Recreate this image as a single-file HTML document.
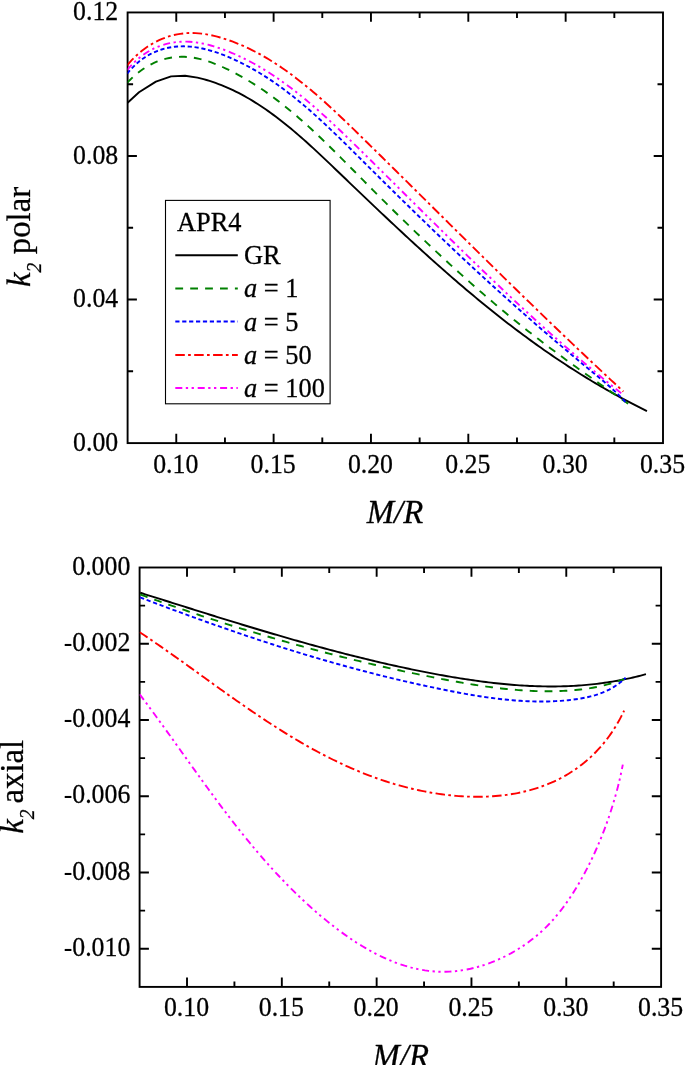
<!DOCTYPE html>
<html><head><meta charset="utf-8"><title>k2</title>
<style>
html,body{margin:0;padding:0;background:#fff;}
body{width:685px;height:1065px;overflow:hidden;}
svg{display:block;}
text{font-family:"Liberation Serif",serif;fill:#000;stroke:#000;stroke-width:0.28px;}
.t{font-size:25.8px;}
.l{font-size:26.4px;}
.a{font-size:32.8px;}
.s{font-size:19.5px;}
.i{font-style:italic;}
.m{stroke:none;}
</style></head><body>
<svg width="685" height="1065" viewBox="0 0 685 1065">
<defs><filter id="soft" x="0" y="0" width="685" height="1065" filterUnits="userSpaceOnUse" color-interpolation-filters="sRGB"><feGaussianBlur stdDeviation="0.35"/></filter></defs>
<rect width="685" height="1065" fill="#fff"/>
<g filter="url(#soft)">
<rect x="127.6" y="12.45" width="535.4" height="430.65000000000003" fill="none" stroke="#000" stroke-width="1.9"/>
<path d="M176.27,12.45v9.3M176.27,443.1v-9.3M273.62,12.45v9.3M273.62,443.1v-9.3M370.96,12.45v9.3M370.96,443.1v-9.3M468.31,12.45v9.3M468.31,443.1v-9.3M565.65,12.45v9.3M565.65,443.1v-9.3M224.95,12.45v5.5M224.95,443.1v-5.5M322.29,12.45v5.5M322.29,443.1v-5.5M419.64,12.45v5.5M419.64,443.1v-5.5M516.98,12.45v5.5M516.98,443.1v-5.5M614.33,12.45v5.5M614.33,443.1v-5.5M127.6,299.55h9.3M663.0,299.55h-9.3M127.6,156.00h9.3M663.0,156.00h-9.3M127.6,371.32h5.5M663.0,371.32h-5.5M127.6,227.78h5.5M663.0,227.78h-5.5M127.6,84.22h5.5M663.0,84.22h-5.5" stroke="#000" stroke-width="1.9" fill="none"/>
<text transform="translate(175.77,473.00) scale(1.0,1.03)" text-anchor="middle" class="t">0.10</text>
<text transform="translate(273.12,473.00) scale(1.0,1.03)" text-anchor="middle" class="t">0.15</text>
<text transform="translate(370.46,473.00) scale(1.0,1.03)" text-anchor="middle" class="t">0.20</text>
<text transform="translate(467.81,473.00) scale(1.0,1.03)" text-anchor="middle" class="t">0.25</text>
<text transform="translate(565.15,473.00) scale(1.0,1.03)" text-anchor="middle" class="t">0.30</text>
<text transform="translate(662.50,473.00) scale(1.0,1.03)" text-anchor="middle" class="t">0.35</text>
<text transform="translate(118.20,450.70) scale(1.0,1.03)" text-anchor="end" class="t">0.00</text>
<text transform="translate(118.20,307.15) scale(1.0,1.03)" text-anchor="end" class="t">0.04</text>
<text transform="translate(118.20,163.60) scale(1.0,1.03)" text-anchor="end" class="t">0.08</text>
<text transform="translate(118.20,20.05) scale(1.0,1.03)" text-anchor="end" class="t">0.12</text>
<text transform="translate(395.00,522.60) scale(1.0,1.03)" text-anchor="middle" class="a"><tspan class="i">M/R</tspan></text>
<text transform="translate(30.00,287.10) rotate(-90) scale(1.0,1.03)" text-anchor="start" class="a"><tspan class="i">k</tspan><tspan class="s i" dy="10.7">2</tspan></text>
<text transform="translate(30.00,186.80) rotate(-90) scale(1.0,1.03)" text-anchor="end" class="a">polar</text>
<clipPath id="c1"><rect x="127.6" y="12.45" width="535.4" height="430.65000000000003"/></clipPath>
<g clip-path="url(#c1)" fill="none" stroke-width="1.9">
<path d="M127.60,102.70 L139.00,92.20 L155.90,81.60 L171.10,76.40 L185.10,75.80 L197.40,77.60 L200.45,78.40 L203.50,79.16 L206.54,80.00 L209.57,80.92 L212.57,81.90 L215.55,82.93 L218.51,84.02 L221.44,85.15 L224.35,86.34 L227.24,87.57 L230.10,88.85 L232.95,90.18 L235.77,91.55 L238.58,92.97 L241.36,94.42 L244.13,95.92 L246.87,97.47 L249.60,99.05 L252.31,100.66 L255.00,102.32 L257.68,104.01 L260.34,105.74 L262.98,107.50 L265.61,109.29 L268.22,111.12 L270.82,112.97 L273.40,114.86 L275.97,116.78 L278.52,118.72 L281.07,120.69 L283.60,122.68 L286.12,124.70 L288.62,126.74 L291.12,128.80 L293.60,130.88 L296.08,132.99 L298.54,135.11 L301.00,137.25 L303.44,139.41 L305.88,141.58 L308.31,143.76 L310.74,145.96 L313.15,148.17 L315.56,150.40 L317.97,152.63 L320.36,154.87 L322.76,157.12 L325.14,159.38 L327.53,161.64 L329.91,163.90 L332.28,166.17 L334.66,168.44 L337.03,170.72 L339.40,172.99 L341.77,175.26 L344.14,177.53 L346.50,179.80 L348.87,182.07 L351.23,184.33 L353.59,186.59 L355.96,188.85 L358.32,191.11 L360.68,193.37 L363.04,195.62 L365.40,197.88 L367.76,200.13 L370.12,202.37 L372.48,204.62 L374.85,206.86 L377.21,209.10 L379.57,211.33 L381.93,213.57 L384.29,215.80 L386.66,218.02 L389.02,220.25 L391.38,222.47 L393.75,224.68 L396.12,226.90 L398.49,229.11 L400.85,231.31 L403.23,233.52 L405.60,235.71 L407.97,237.91 L410.35,240.10 L412.72,242.28 L415.10,244.47 L417.48,246.64 L419.87,248.82 L422.25,250.99 L424.64,253.15 L427.03,255.31 L429.42,257.46 L431.82,259.61 L434.22,261.76 L436.62,263.90 L439.02,266.03 L441.43,268.16 L443.84,270.29 L446.25,272.41 L448.67,274.52 L451.09,276.63 L453.51,278.73 L455.94,280.83 L458.37,282.92 L460.81,285.00 L463.24,287.08 L465.69,289.16 L468.13,291.22 L470.59,293.28 L473.04,295.34 L475.50,297.38 L477.97,299.43 L480.43,301.46 L482.91,303.49 L485.39,305.51 L487.87,307.52 L490.36,309.53 L492.86,311.53 L495.35,313.53 L497.86,315.51 L500.37,317.49 L502.89,319.46 L505.41,321.43 L507.94,323.38 L510.47,325.33 L513.01,327.27 L515.55,329.20 L518.11,331.13 L520.66,333.05 L523.23,334.96 L525.80,336.86 L528.38,338.75 L530.96,340.63 L533.55,342.51 L536.15,344.38 L538.76,346.23 L541.37,348.08 L543.99,349.93 L546.61,351.76 L549.25,353.58 L551.89,355.40 L554.54,357.20 L557.20,359.00 L559.86,360.78 L562.54,362.56 L565.22,364.33 L567.91,366.09 L570.60,367.83 L573.31,369.57 L576.03,371.30 L578.75,373.02 L581.48,374.73 L584.22,376.43 L586.97,378.12 L589.73,379.79 L592.50,381.46 L595.27,383.12 L598.06,384.77 L600.85,386.40 L603.66,388.03 L606.47,389.64 L609.30,391.24 L612.13,392.84 L614.98,394.42 L617.83,395.99 L620.70,397.55 L623.57,399.10 L626.45,400.63 L629.35,402.16 L632.26,403.67 L635.17,405.17 L638.10,406.66 L641.04,408.14 L643.99,409.61 L646.95,411.06" stroke="#000" stroke-linejoin="round"/>
<path d="M127.15,82.87 L129.71,80.21 L132.31,77.69 L134.96,75.31 L137.64,73.08 L140.37,70.98 L143.13,69.03 L145.92,67.23 L148.75,65.56 L151.60,64.04 L154.48,62.67 L157.38,61.44 L160.31,60.36 L163.26,59.42 L166.22,58.63 L169.20,57.98 L172.19,57.46 L175.20,57.09 L178.21,56.86 L181.23,56.76 L184.25,56.79 L187.27,56.96 L190.29,57.27 L193.31,57.69 L196.33,58.23 L199.34,58.88 L202.34,59.64 L205.34,60.49 L208.32,61.43 L211.30,62.45 L214.26,63.55 L217.20,64.72 L220.13,65.96 L223.04,67.25 L225.94,68.59 L228.81,69.97 L231.66,71.38 L234.48,72.83 L237.29,74.32 L240.07,75.83 L242.83,77.38 L245.57,78.96 L248.29,80.57 L250.99,82.21 L253.67,83.88 L256.33,85.58 L258.97,87.31 L261.60,89.06 L264.20,90.84 L266.79,92.65 L269.37,94.48 L271.92,96.33 L274.46,98.21 L276.99,100.12 L279.50,102.04 L282.00,103.99 L284.48,105.96 L286.95,107.94 L289.40,109.95 L291.84,111.98 L294.27,114.03 L296.69,116.09 L299.09,118.17 L301.49,120.27 L303.87,122.38 L306.25,124.51 L308.61,126.65 L310.97,128.81 L313.31,130.98 L315.65,133.16 L317.98,135.36 L320.30,137.56 L322.62,139.78 L324.93,142.00 L327.23,144.24 L329.53,146.48 L331.82,148.73 L334.11,150.99 L336.39,153.25 L338.67,155.52 L340.94,157.80 L343.21,160.08 L345.48,162.36 L347.75,164.65 L350.02,166.94 L352.28,169.23 L354.54,171.52 L356.81,173.81 L359.07,176.10 L361.33,178.40 L363.60,180.68 L365.86,182.97 L368.13,185.26 L370.40,187.54 L372.67,189.82 L374.94,192.10 L377.21,194.37 L379.49,196.64 L381.76,198.91 L384.04,201.18 L386.32,203.44 L388.60,205.70 L390.89,207.96 L393.17,210.21 L395.46,212.46 L397.75,214.71 L400.04,216.96 L402.33,219.20 L404.63,221.43 L406.93,223.67 L409.23,225.90 L411.53,228.12 L413.84,230.35 L416.14,232.57 L418.45,234.78 L420.77,236.99 L423.08,239.20 L425.40,241.40 L427.72,243.60 L430.04,245.79 L432.37,247.98 L434.69,250.17 L437.02,252.35 L439.36,254.53 L441.70,256.70 L444.03,258.86 L446.38,261.02 L448.72,263.18 L451.07,265.33 L453.42,267.48 L455.78,269.62 L458.14,271.76 L460.50,273.89 L462.87,276.02 L465.23,278.14 L467.61,280.25 L469.98,282.36 L472.36,284.47 L474.74,286.56 L477.13,288.66 L479.52,290.74 L481.91,292.82 L484.31,294.90 L486.71,296.97 L489.12,299.03 L491.53,301.08 L493.94,303.13 L496.36,305.18 L498.78,307.22 L501.20,309.25 L503.63,311.27 L506.07,313.29 L508.51,315.30 L510.95,317.30 L513.39,319.30 L515.85,321.29 L518.30,323.27 L520.76,325.25 L523.23,327.22 L525.69,329.18 L528.17,331.13 L530.65,333.08 L533.13,335.02 L535.62,336.95 L538.11,338.87 L540.61,340.79 L543.11,342.70 L545.62,344.61 L548.13,346.50 L550.65,348.40 L553.17,350.28 L555.70,352.17 L558.23,354.04 L560.77,355.92 L563.32,357.79 L565.87,359.65 L568.42,361.51 L570.98,363.37 L573.55,365.23 L576.12,367.08 L578.69,368.93 L581.28,370.78 L583.86,372.63 L586.46,374.48 L589.06,376.32 L591.66,378.17 L594.28,380.01 L596.89,381.86 L599.52,383.71 L602.15,385.55 L604.78,387.40 L607.42,389.25 L610.07,391.10 L612.72,392.96 L615.38,394.81 L618.05,396.67 L620.72,398.54 L623.40,400.40 L626.09,402.27 L628.78,404.15" stroke="#008000" stroke-dasharray="7.8 7.1" stroke-linejoin="round"/>
<path d="M127.23,73.57 L129.59,70.73 L132.03,68.06 L134.52,65.56 L137.08,63.23 L139.70,61.05 L142.37,59.04 L145.10,57.19 L147.87,55.49 L150.69,53.94 L153.55,52.55 L156.45,51.30 L159.39,50.20 L162.36,49.24 L165.36,48.42 L168.38,47.73 L171.43,47.19 L174.50,46.77 L177.58,46.49 L180.68,46.34 L183.79,46.31 L186.90,46.40 L190.01,46.61 L193.13,46.94 L196.25,47.37 L199.36,47.91 L202.47,48.54 L205.58,49.27 L208.67,50.08 L211.76,50.97 L214.83,51.93 L217.89,52.96 L220.93,54.06 L223.96,55.21 L226.96,56.42 L229.94,57.67 L232.89,58.96 L235.83,60.29 L238.73,61.66 L241.62,63.08 L244.48,64.52 L247.32,66.01 L250.14,67.53 L252.94,69.09 L255.72,70.68 L258.47,72.30 L261.21,73.96 L263.93,75.65 L266.62,77.37 L269.30,79.12 L271.97,80.90 L274.61,82.71 L277.24,84.55 L279.85,86.41 L282.44,88.31 L285.02,90.22 L287.58,92.16 L290.12,94.13 L292.66,96.11 L295.17,98.12 L297.68,100.15 L300.17,102.20 L302.65,104.27 L305.11,106.36 L307.56,108.47 L310.01,110.59 L312.44,112.73 L314.86,114.89 L317.27,117.06 L319.67,119.24 L322.06,121.44 L324.44,123.65 L326.81,125.87 L329.18,128.10 L331.53,130.34 L333.88,132.59 L336.23,134.85 L338.57,137.11 L340.90,139.39 L343.22,141.66 L345.55,143.94 L347.86,146.23 L350.18,148.52 L352.48,150.81 L354.79,153.10 L357.09,155.39 L359.39,157.69 L361.69,159.98 L363.99,162.27 L366.29,164.56 L368.58,166.84 L370.88,169.12 L373.17,171.40 L375.47,173.68 L377.76,175.95 L380.05,178.23 L382.35,180.49 L384.64,182.76 L386.93,185.03 L389.22,187.29 L391.51,189.55 L393.80,191.80 L396.10,194.06 L398.39,196.31 L400.68,198.56 L402.97,200.81 L405.27,203.05 L407.56,205.30 L409.86,207.54 L412.15,209.78 L414.45,212.01 L416.75,214.25 L419.05,216.48 L421.35,218.71 L423.65,220.93 L425.95,223.16 L428.26,225.38 L430.56,227.60 L432.87,229.82 L435.18,232.04 L437.49,234.25 L439.80,236.46 L442.12,238.67 L444.44,240.88 L446.76,243.09 L449.08,245.29 L451.40,247.50 L453.73,249.70 L456.06,251.89 L458.39,254.09 L460.73,256.29 L463.06,258.48 L465.40,260.67 L467.75,262.86 L470.09,265.04 L472.44,267.23 L474.80,269.41 L477.15,271.59 L479.51,273.77 L481.88,275.95 L484.25,278.13 L486.62,280.30 L488.99,282.47 L491.37,284.65 L493.75,286.81 L496.14,288.98 L498.53,291.15 L500.93,293.31 L503.33,295.48 L505.73,297.64 L508.14,299.80 L510.56,301.95 L512.98,304.11 L515.40,306.27 L517.83,308.42 L520.26,310.57 L522.69,312.72 L525.13,314.86 L527.57,317.01 L530.02,319.15 L532.47,321.28 L534.92,323.42 L537.37,325.55 L539.82,327.68 L542.28,329.80 L544.74,331.92 L547.20,334.04 L549.66,336.15 L552.12,338.26 L554.58,340.36 L557.05,342.46 L559.51,344.55 L561.97,346.64 L564.44,348.73 L566.90,350.81 L569.36,352.88 L571.82,354.95 L574.28,357.01 L576.74,359.06 L579.20,361.11 L581.65,363.16 L584.10,365.19 L586.55,367.22 L589.00,369.25 L591.45,371.26 L593.89,373.27 L596.33,375.28 L598.76,377.29 L601.18,379.31 L603.60,381.34 L606.00,383.39 L608.39,385.47 L610.77,387.57 L613.13,389.71 L615.48,391.89 L617.80,394.11 L620.11,396.38 L622.39,398.71 L624.65,401.10 L626.89,403.56" stroke="#0000ff" stroke-dasharray="4.2 2.7" stroke-linejoin="round"/>
<path d="M127.12,65.37 L129.50,62.58 L131.94,59.92 L134.44,57.38 L137.00,54.96 L139.61,52.67 L142.26,50.51 L144.97,48.47 L147.72,46.55 L150.52,44.76 L153.35,43.10 L156.22,41.56 L159.12,40.15 L162.06,38.86 L165.02,37.70 L168.01,36.67 L171.02,35.77 L174.05,34.99 L177.10,34.34 L180.16,33.82 L183.24,33.43 L186.32,33.16 L189.41,33.02 L192.51,33.01 L195.61,33.11 L198.70,33.33 L201.80,33.65 L204.89,34.08 L207.98,34.59 L211.06,35.20 L214.13,35.89 L217.19,36.66 L220.23,37.51 L223.26,38.41 L226.27,39.38 L229.27,40.41 L232.24,41.48 L235.19,42.61 L238.12,43.78 L241.03,45.00 L243.92,46.26 L246.79,47.57 L249.64,48.92 L252.47,50.32 L255.28,51.76 L258.08,53.23 L260.85,54.75 L263.61,56.31 L266.36,57.90 L269.08,59.53 L271.79,61.20 L274.49,62.90 L277.16,64.64 L279.82,66.41 L282.47,68.21 L285.10,70.04 L287.72,71.90 L290.33,73.79 L292.92,75.71 L295.50,77.66 L298.06,79.63 L300.61,81.63 L303.15,83.65 L305.68,85.69 L308.20,87.76 L310.70,89.85 L313.20,91.96 L315.68,94.08 L318.16,96.23 L320.62,98.39 L323.08,100.57 L325.52,102.76 L327.96,104.97 L330.39,107.20 L332.81,109.43 L335.22,111.68 L337.63,113.93 L340.03,116.20 L342.42,118.47 L344.81,120.75 L347.19,123.04 L349.57,125.33 L351.94,127.63 L354.30,129.93 L356.67,132.24 L359.02,134.54 L361.38,136.85 L363.73,139.15 L366.08,141.46 L368.42,143.76 L370.76,146.06 L373.10,148.36 L375.44,150.66 L377.77,152.96 L380.10,155.25 L382.43,157.55 L384.76,159.84 L387.08,162.13 L389.41,164.42 L391.72,166.71 L394.04,169.00 L396.36,171.29 L398.67,173.57 L400.98,175.86 L403.29,178.14 L405.60,180.42 L407.90,182.70 L410.21,184.98 L412.51,187.26 L414.81,189.53 L417.11,191.81 L419.41,194.08 L421.70,196.36 L424.00,198.63 L426.29,200.90 L428.58,203.17 L430.88,205.44 L433.17,207.71 L435.46,209.97 L437.74,212.24 L440.03,214.50 L442.32,216.77 L444.60,219.03 L446.89,221.29 L449.17,223.55 L451.46,225.81 L453.74,228.07 L456.02,230.33 L458.31,232.59 L460.59,234.84 L462.87,237.10 L465.15,239.35 L467.43,241.61 L469.71,243.86 L472.00,246.11 L474.28,248.36 L476.56,250.61 L478.84,252.86 L481.12,255.11 L483.41,257.36 L485.69,259.61 L487.97,261.86 L490.26,264.10 L492.54,266.35 L494.83,268.59 L497.11,270.84 L499.40,273.08 L501.68,275.32 L503.97,277.56 L506.26,279.81 L508.55,282.05 L510.84,284.29 L513.14,286.53 L515.43,288.77 L517.72,291.01 L520.02,293.25 L522.32,295.48 L524.62,297.72 L526.92,299.96 L529.22,302.19 L531.53,304.43 L533.83,306.67 L536.14,308.90 L538.45,311.14 L540.76,313.37 L543.07,315.61 L545.39,317.84 L547.70,320.07 L550.02,322.31 L552.35,324.54 L554.67,326.77 L557.00,329.01 L559.33,331.24 L561.66,333.47 L563.99,335.70 L566.33,337.93 L568.67,340.17 L571.01,342.40 L573.35,344.63 L575.70,346.86 L578.05,349.09 L580.41,351.32 L582.76,353.55 L585.12,355.78 L587.48,358.01 L589.85,360.24 L592.22,362.47 L594.59,364.70 L596.97,366.93 L599.35,369.16 L601.73,371.39 L604.12,373.63 L606.51,375.86 L608.91,378.09 L611.30,380.32 L613.71,382.55 L616.11,384.78 L618.52,387.01 L620.94,389.24 L623.36,391.47" stroke="#ff0000" stroke-dasharray="9.5 3.3 2.7 3.4" stroke-linejoin="round"/>
<path d="M127.11,70.08 L129.61,67.16 L132.16,64.42 L134.75,61.85 L137.39,59.45 L140.07,57.22 L142.79,55.15 L145.55,53.24 L148.33,51.49 L151.15,49.89 L154.00,48.45 L156.88,47.15 L159.78,46.00 L162.71,44.99 L165.65,44.12 L168.62,43.39 L171.60,42.79 L174.59,42.32 L177.60,41.97 L180.62,41.75 L183.64,41.65 L186.67,41.67 L189.70,41.80 L192.73,42.04 L195.76,42.38 L198.79,42.82 L201.82,43.36 L204.84,43.98 L207.86,44.69 L210.86,45.48 L213.86,46.34 L216.85,47.27 L219.82,48.26 L222.78,49.31 L225.72,50.41 L228.64,51.56 L231.55,52.76 L234.44,54.00 L237.30,55.27 L240.15,56.59 L242.98,57.95 L245.79,59.34 L248.58,60.77 L251.36,62.24 L254.12,63.74 L256.86,65.28 L259.58,66.85 L262.29,68.46 L264.98,70.09 L267.66,71.76 L270.32,73.46 L272.97,75.19 L275.60,76.95 L278.22,78.74 L280.82,80.56 L283.41,82.40 L285.99,84.27 L288.55,86.16 L291.10,88.08 L293.64,90.02 L296.16,91.98 L298.68,93.97 L301.18,95.97 L303.67,98.00 L306.15,100.05 L308.62,102.11 L311.08,104.20 L313.53,106.30 L315.97,108.42 L318.40,110.55 L320.82,112.69 L323.23,114.86 L325.64,117.03 L328.03,119.22 L330.42,121.41 L332.80,123.62 L335.18,125.84 L337.54,128.07 L339.91,130.31 L342.26,132.55 L344.61,134.80 L346.95,137.06 L349.29,139.32 L351.62,141.58 L353.95,143.85 L356.28,146.12 L358.60,148.40 L360.92,150.67 L363.23,152.95 L365.54,155.22 L367.85,157.49 L370.15,159.77 L372.46,162.04 L374.76,164.31 L377.05,166.58 L379.35,168.85 L381.64,171.12 L383.93,173.38 L386.22,175.65 L388.51,177.91 L390.80,180.18 L393.08,182.44 L395.36,184.70 L397.64,186.96 L399.92,189.22 L402.20,191.48 L404.47,193.74 L406.75,195.99 L409.02,198.25 L411.29,200.50 L413.56,202.75 L415.83,205.00 L418.10,207.25 L420.37,209.50 L422.64,211.74 L424.91,213.99 L427.17,216.23 L429.44,218.47 L431.71,220.71 L433.97,222.95 L436.24,225.19 L438.50,227.42 L440.77,229.66 L443.04,231.89 L445.30,234.12 L447.57,236.35 L449.84,238.57 L452.11,240.80 L454.38,243.02 L456.65,245.24 L458.92,247.46 L461.19,249.68 L463.46,251.89 L465.73,254.10 L468.01,256.31 L470.28,258.52 L472.56,260.73 L474.84,262.94 L477.12,265.14 L479.40,267.34 L481.68,269.54 L483.97,271.73 L486.26,273.93 L488.54,276.12 L490.84,278.31 L493.13,280.50 L495.42,282.68 L497.72,284.86 L500.02,287.04 L502.33,289.22 L504.63,291.39 L506.94,293.57 L509.25,295.74 L511.57,297.90 L513.88,300.07 L516.20,302.23 L518.53,304.39 L520.85,306.55 L523.18,308.70 L525.52,310.86 L527.85,313.00 L530.19,315.15 L532.54,317.29 L534.89,319.44 L537.24,321.57 L539.59,323.71 L541.95,325.84 L544.32,327.97 L546.69,330.10 L549.06,332.22 L551.44,334.34 L553.82,336.46 L556.20,338.57 L558.59,340.68 L560.99,342.79 L563.39,344.89 L565.80,347.00 L568.21,349.09 L570.62,351.19 L573.04,353.28 L575.47,355.37 L577.90,357.46 L580.34,359.54 L582.78,361.62 L585.23,363.69 L587.69,365.76 L590.15,367.83 L592.61,369.90 L595.09,371.96 L597.56,374.02 L600.05,376.07 L602.54,378.12 L605.04,380.17 L607.54,382.21 L610.05,384.25 L612.57,386.29 L615.09,388.32 L617.62,390.35 L620.16,392.38 L622.71,394.40" stroke="#ff00ff" stroke-dasharray="7 3.5 2.3 3.5 2.3 3.8" stroke-linejoin="round"/>
</g>
<rect x="165.5" y="200.4" width="164.6" height="203.4" fill="#fff" stroke="#000" stroke-width="1.1"/>
<text transform="translate(177.00,230.60) scale(1.0,1.03)" text-anchor="start" class="l">APR4</text>
<path d="M175.3,255.3H237.8" stroke="#000" stroke-width="2" fill="none"/>
<text transform="translate(244.00,264.20) scale(1.0,1.03)" text-anchor="start" class="l">GR</text>
<path d="M175.3,288.5H237.8" stroke="#008000" stroke-width="2" fill="none" stroke-dasharray="7.8 7.1"/>
<text transform="translate(244.00,297.40) scale(1.0,1.03)" text-anchor="start" class="l"><tspan class="i">a</tspan> = 1</text>
<path d="M175.3,321.6H237.8" stroke="#0000ff" stroke-width="2" fill="none" stroke-dasharray="4.2 2.7"/>
<text transform="translate(244.00,330.50) scale(1.0,1.03)" text-anchor="start" class="l"><tspan class="i">a</tspan> = 5</text>
<path d="M175.3,355H237.8" stroke="#ff0000" stroke-width="2" fill="none" stroke-dasharray="9.5 3.3 2.7 3.4"/>
<text transform="translate(244.00,363.90) scale(1.0,1.03)" text-anchor="start" class="l"><tspan class="i">a</tspan> = 50</text>
<path d="M175.3,388.1H237.8" stroke="#ff00ff" stroke-width="2" fill="none" stroke-dasharray="7 3.5 2.3 3.5 2.3 3.8"/>
<text transform="translate(244.00,397.00) scale(1.0,1.03)" text-anchor="start" class="l"><tspan class="i">a</tspan> = 100</text>
<rect x="139.6" y="567.5" width="521.5" height="419.4" fill="none" stroke="#000" stroke-width="1.9"/>
<path d="M187.01,567.5v9.3M187.01,986.9v-9.3M281.83,567.5v9.3M281.83,986.9v-9.3M376.65,567.5v9.3M376.65,986.9v-9.3M471.46,567.5v9.3M471.46,986.9v-9.3M566.28,567.5v9.3M566.28,986.9v-9.3M234.42,567.5v5.5M234.42,986.9v-5.5M329.24,567.5v5.5M329.24,986.9v-5.5M424.05,567.5v5.5M424.05,986.9v-5.5M518.87,567.5v5.5M518.87,986.9v-5.5M613.69,567.5v5.5M613.69,986.9v-5.5M139.6,643.75h9.3M661.1,643.75h-9.3M139.6,720.01h9.3M661.1,720.01h-9.3M139.6,796.26h9.3M661.1,796.26h-9.3M139.6,872.52h9.3M661.1,872.52h-9.3M139.6,948.77h9.3M661.1,948.77h-9.3M139.6,605.63h5.5M661.1,605.63h-5.5M139.6,681.88h5.5M661.1,681.88h-5.5M139.6,758.14h5.5M661.1,758.14h-5.5M139.6,834.39h5.5M661.1,834.39h-5.5M139.6,910.65h5.5M661.1,910.65h-5.5" stroke="#000" stroke-width="1.9" fill="none"/>
<text transform="translate(186.51,1016.20) scale(1.0,1.03)" text-anchor="middle" class="t">0.10</text>
<text transform="translate(281.33,1016.20) scale(1.0,1.03)" text-anchor="middle" class="t">0.15</text>
<text transform="translate(376.15,1016.20) scale(1.0,1.03)" text-anchor="middle" class="t">0.20</text>
<text transform="translate(470.96,1016.20) scale(1.0,1.03)" text-anchor="middle" class="t">0.25</text>
<text transform="translate(565.78,1016.20) scale(1.0,1.03)" text-anchor="middle" class="t">0.30</text>
<text transform="translate(660.60,1016.20) scale(1.0,1.03)" text-anchor="middle" class="t">0.35</text>
<text transform="translate(130.30,574.70) scale(1.0,1.03)" text-anchor="end" class="t">0.000</text>
<text transform="translate(130.30,650.95) scale(1.0,1.03)" text-anchor="end" class="t"><tspan class="m">-</tspan>0.002</text>
<text transform="translate(130.30,727.21) scale(1.0,1.03)" text-anchor="end" class="t"><tspan class="m">-</tspan>0.004</text>
<text transform="translate(130.30,803.46) scale(1.0,1.03)" text-anchor="end" class="t"><tspan class="m">-</tspan>0.006</text>
<text transform="translate(130.30,879.72) scale(1.0,1.03)" text-anchor="end" class="t"><tspan class="m">-</tspan>0.008</text>
<text transform="translate(130.30,955.97) scale(1.0,1.03)" text-anchor="end" class="t"><tspan class="m">-</tspan>0.010</text>
<text transform="translate(400.70,1066.80) scale(1.0,1.03)" text-anchor="middle" class="a"><tspan class="i">M/R</tspan></text>
<text transform="translate(22.50,833.70) rotate(-90) scale(1.0,1.03)" text-anchor="start" class="a"><tspan class="i">k</tspan><tspan class="s i" dy="10.7">2</tspan></text>
<text transform="translate(22.50,739.80) rotate(-90) scale(1.0,1.03)" text-anchor="end" class="a">axial</text>
<clipPath id="c2"><rect x="139.6" y="567.5" width="521.5" height="419.4"/></clipPath>
<g clip-path="url(#c2)" fill="none" stroke-width="1.9">
<path d="M140.23,592.75 L142.67,593.52 L145.13,594.29 L147.58,595.06 L150.03,595.83 L152.49,596.60 L154.94,597.38 L157.40,598.15 L159.86,598.93 L162.32,599.70 L164.78,600.48 L167.24,601.25 L169.71,602.03 L172.17,602.81 L174.64,603.59 L177.11,604.36 L179.58,605.14 L182.05,605.92 L184.52,606.70 L187.00,607.47 L189.47,608.25 L191.95,609.03 L194.43,609.81 L196.90,610.59 L199.38,611.36 L201.87,612.14 L204.35,612.92 L206.83,613.69 L209.32,614.47 L211.80,615.24 L214.29,616.01 L216.78,616.79 L219.27,617.56 L221.76,618.33 L224.26,619.10 L226.75,619.87 L229.24,620.64 L231.74,621.41 L234.24,622.17 L236.74,622.94 L239.24,623.70 L241.74,624.47 L244.24,625.23 L246.74,625.99 L249.24,626.74 L251.75,627.50 L254.26,628.26 L256.76,629.01 L259.27,629.76 L261.78,630.51 L264.29,631.26 L266.80,632.00 L269.32,632.75 L271.83,633.49 L274.34,634.23 L276.86,634.96 L279.38,635.70 L281.89,636.43 L284.41,637.16 L286.93,637.89 L289.45,638.62 L291.98,639.34 L294.50,640.06 L297.02,640.78 L299.55,641.49 L302.07,642.20 L304.60,642.91 L307.13,643.62 L309.66,644.32 L312.18,645.02 L314.72,645.72 L317.25,646.41 L319.78,647.10 L322.31,647.79 L324.85,648.48 L327.38,649.16 L329.92,649.83 L332.45,650.51 L334.99,651.18 L337.53,651.84 L340.07,652.51 L342.61,653.16 L345.15,653.82 L347.69,654.47 L350.23,655.12 L352.77,655.76 L355.32,656.40 L357.86,657.04 L360.41,657.67 L362.95,658.29 L365.50,658.92 L368.05,659.53 L370.60,660.15 L373.15,660.76 L375.70,661.36 L378.25,661.96 L380.80,662.56 L383.35,663.15 L385.90,663.73 L388.46,664.31 L391.01,664.89 L393.57,665.46 L396.12,666.02 L398.68,666.58 L401.23,667.14 L403.79,667.69 L406.35,668.24 L408.91,668.78 L411.47,669.31 L414.03,669.84 L416.59,670.36 L419.15,670.88 L421.71,671.39 L424.27,671.90 L426.83,672.40 L429.40,672.89 L431.96,673.38 L434.53,673.86 L437.09,674.34 L439.66,674.81 L442.22,675.28 L444.79,675.73 L447.36,676.19 L449.92,676.63 L452.49,677.07 L455.06,677.50 L457.63,677.93 L460.20,678.34 L462.77,678.75 L465.34,679.15 L467.91,679.54 L470.48,679.93 L473.05,680.30 L475.63,680.67 L478.20,681.03 L480.77,681.38 L483.35,681.71 L485.92,682.04 L488.49,682.36 L491.07,682.67 L493.64,682.97 L496.22,683.26 L498.79,683.53 L501.37,683.80 L503.95,684.05 L506.52,684.30 L509.10,684.53 L511.68,684.75 L514.25,684.95 L516.83,685.15 L519.41,685.33 L521.99,685.50 L524.57,685.66 L527.15,685.80 L529.73,685.93 L532.31,686.04 L534.89,686.15 L537.47,686.23 L540.05,686.31 L542.63,686.36 L545.21,686.41 L547.79,686.44 L550.37,686.45 L552.95,686.45 L555.53,686.43 L558.11,686.39 L560.69,686.34 L563.28,686.28 L565.86,686.19 L568.44,686.09 L571.02,685.98 L573.61,685.84 L576.19,685.69 L578.77,685.52 L581.35,685.33 L583.94,685.13 L586.52,684.91 L589.10,684.66 L591.69,684.40 L594.27,684.12 L596.85,683.82 L599.44,683.50 L602.02,683.16 L604.60,682.80 L607.19,682.42 L609.77,682.03 L612.35,681.61 L614.94,681.16 L617.52,680.70 L620.10,680.22 L622.69,679.72 L625.27,679.19 L627.85,678.64 L630.44,678.07 L633.02,677.48 L635.60,676.86 L638.19,676.22 L640.77,675.56 L643.35,674.88 L645.94,674.17" stroke="#000"/>
<path d="M140.24,594.48 L142.57,595.33 L144.90,596.17 L147.24,597.02 L149.58,597.86 L151.92,598.70 L154.26,599.54 L156.60,600.37 L158.95,601.20 L161.30,602.04 L163.65,602.86 L166.00,603.69 L168.35,604.51 L170.70,605.33 L173.06,606.15 L175.42,606.97 L177.78,607.78 L180.14,608.59 L182.50,609.40 L184.86,610.21 L187.23,611.01 L189.59,611.81 L191.96,612.61 L194.33,613.41 L196.71,614.20 L199.08,614.99 L201.45,615.78 L203.83,616.57 L206.21,617.35 L208.59,618.13 L210.97,618.91 L213.35,619.69 L215.73,620.46 L218.12,621.23 L220.50,622.00 L222.89,622.76 L225.28,623.53 L227.67,624.29 L230.07,625.04 L232.46,625.80 L234.85,626.55 L237.25,627.30 L239.65,628.05 L242.05,628.79 L244.45,629.53 L246.85,630.27 L249.25,631.00 L251.66,631.73 L254.06,632.46 L256.47,633.19 L258.88,633.91 L261.28,634.63 L263.69,635.35 L266.11,636.07 L268.52,636.78 L270.93,637.49 L273.35,638.19 L275.76,638.90 L278.18,639.60 L280.60,640.29 L283.02,640.99 L285.44,641.68 L287.86,642.37 L290.28,643.05 L292.71,643.74 L295.13,644.41 L297.56,645.09 L299.99,645.76 L302.41,646.43 L304.84,647.10 L307.27,647.76 L309.70,648.42 L312.14,649.08 L314.57,649.73 L317.00,650.39 L319.44,651.03 L321.87,651.68 L324.31,652.32 L326.75,652.96 L329.19,653.59 L331.63,654.22 L334.07,654.85 L336.51,655.48 L338.95,656.10 L341.39,656.72 L343.84,657.33 L346.28,657.94 L348.73,658.55 L351.17,659.16 L353.62,659.76 L356.07,660.36 L358.52,660.95 L360.96,661.54 L363.41,662.13 L365.86,662.72 L368.32,663.30 L370.77,663.88 L373.22,664.45 L375.67,665.02 L378.13,665.59 L380.58,666.15 L383.04,666.71 L385.49,667.27 L387.95,667.82 L390.41,668.37 L392.86,668.92 L395.32,669.46 L397.78,670.00 L400.24,670.53 L402.70,671.06 L405.16,671.59 L407.62,672.12 L410.08,672.64 L412.54,673.15 L415.01,673.67 L417.47,674.18 L419.93,674.68 L422.39,675.18 L424.86,675.68 L427.32,676.18 L429.79,676.67 L432.25,677.15 L434.72,677.64 L437.18,678.12 L439.65,678.59 L442.12,679.06 L444.58,679.53 L447.05,679.99 L449.52,680.45 L451.99,680.91 L454.45,681.36 L456.92,681.80 L459.39,682.24 L461.86,682.67 L464.33,683.09 L466.80,683.51 L469.27,683.92 L471.74,684.32 L474.21,684.72 L476.68,685.11 L479.15,685.49 L481.62,685.85 L484.09,686.22 L486.56,686.57 L489.03,686.91 L491.50,687.24 L493.97,687.56 L496.44,687.87 L498.91,688.17 L501.39,688.45 L503.86,688.73 L506.33,688.99 L508.80,689.24 L511.27,689.48 L513.74,689.70 L516.21,689.92 L518.68,690.11 L521.15,690.30 L523.63,690.46 L526.10,690.62 L528.57,690.76 L531.04,690.88 L533.51,690.99 L535.98,691.08 L538.45,691.15 L540.92,691.21 L543.39,691.25 L545.86,691.27 L548.33,691.28 L550.80,691.26 L553.27,691.23 L555.74,691.18 L558.21,691.11 L560.68,691.02 L563.15,690.91 L565.61,690.79 L568.08,690.64 L570.55,690.47 L573.02,690.27 L575.48,690.06 L577.95,689.81 L580.42,689.54 L582.88,689.25 L585.35,688.92 L587.81,688.56 L590.28,688.17 L592.74,687.75 L595.21,687.29 L597.67,686.80 L600.14,686.27 L602.60,685.70 L605.06,685.09 L607.52,684.44 L609.98,683.75 L612.45,683.01 L614.91,682.23 L617.37,681.40 L619.83,680.52 L622.28,679.59 L624.74,678.61" stroke="#008000" stroke-dasharray="7.8 7.1"/>
<path d="M140.18,597.40 L142.58,598.32 L144.99,599.24 L147.39,600.15 L149.80,601.06 L152.20,601.97 L154.60,602.87 L157.00,603.78 L159.40,604.68 L161.80,605.58 L164.20,606.48 L166.60,607.37 L169.00,608.27 L171.40,609.16 L173.80,610.05 L176.20,610.93 L178.60,611.82 L181.00,612.70 L183.40,613.58 L185.79,614.45 L188.19,615.33 L190.59,616.20 L192.99,617.07 L195.39,617.94 L197.78,618.80 L200.18,619.66 L202.58,620.52 L204.97,621.38 L207.37,622.23 L209.77,623.08 L212.17,623.93 L214.56,624.78 L216.96,625.62 L219.36,626.46 L221.76,627.30 L224.16,628.14 L226.56,628.97 L228.95,629.80 L231.35,630.63 L233.75,631.45 L236.15,632.28 L238.55,633.10 L240.95,633.91 L243.36,634.72 L245.76,635.54 L248.16,636.34 L250.56,637.15 L252.96,637.95 L255.37,638.75 L257.77,639.54 L260.18,640.34 L262.58,641.13 L264.99,641.91 L267.39,642.70 L269.80,643.48 L272.21,644.25 L274.62,645.03 L277.03,645.80 L279.44,646.57 L281.85,647.33 L284.26,648.09 L286.67,648.85 L289.09,649.61 L291.50,650.36 L293.92,651.11 L296.33,651.85 L298.75,652.59 L301.17,653.33 L303.59,654.07 L306.01,654.80 L308.43,655.53 L310.85,656.25 L313.28,656.97 L315.70,657.69 L318.13,658.41 L320.56,659.12 L322.99,659.82 L325.42,660.53 L327.85,661.23 L330.28,661.93 L332.71,662.62 L335.15,663.31 L337.59,663.99 L340.02,664.68 L342.46,665.35 L344.90,666.03 L347.35,666.70 L349.79,667.37 L352.24,668.03 L354.68,668.69 L357.13,669.35 L359.58,670.00 L362.03,670.65 L364.49,671.29 L366.94,671.93 L369.40,672.57 L371.86,673.20 L374.32,673.83 L376.78,674.46 L379.25,675.08 L381.71,675.69 L384.18,676.31 L386.65,676.92 L389.12,677.52 L391.59,678.12 L394.07,678.72 L396.55,679.31 L399.03,679.90 L401.51,680.48 L403.99,681.06 L406.48,681.64 L408.96,682.21 L411.45,682.78 L413.95,683.34 L416.44,683.90 L418.94,684.46 L421.43,685.01 L423.94,685.55 L426.44,686.09 L428.94,686.63 L431.45,687.16 L433.96,687.69 L436.47,688.22 L438.99,688.73 L441.51,689.25 L444.03,689.76 L446.55,690.27 L449.07,690.77 L451.60,691.26 L454.13,691.75 L456.66,692.23 L459.19,692.70 L461.72,693.17 L464.26,693.63 L466.80,694.08 L469.34,694.52 L471.88,694.95 L474.42,695.38 L476.96,695.79 L479.50,696.19 L482.05,696.58 L484.59,696.96 L487.14,697.33 L489.68,697.68 L492.23,698.02 L494.78,698.35 L497.32,698.67 L499.87,698.97 L502.42,699.25 L504.97,699.53 L507.51,699.78 L510.06,700.02 L512.61,700.25 L515.15,700.45 L517.70,700.64 L520.24,700.82 L522.79,700.97 L525.33,701.11 L527.87,701.22 L530.41,701.32 L532.95,701.40 L535.49,701.46 L538.03,701.50 L540.57,701.51 L543.10,701.51 L545.63,701.48 L548.16,701.43 L550.69,701.36 L553.22,701.26 L555.74,701.14 L558.27,701.00 L560.79,700.83 L563.30,700.64 L565.82,700.42 L568.33,700.18 L570.84,699.91 L573.34,699.60 L575.84,699.27 L578.33,698.90 L580.81,698.50 L583.28,698.05 L585.74,697.55 L588.18,697.01 L590.60,696.42 L593.00,695.78 L595.39,695.08 L597.75,694.32 L600.09,693.50 L602.40,692.61 L604.69,691.66 L606.95,690.63 L609.17,689.53 L611.37,688.36 L613.53,687.10 L615.65,685.76 L617.74,684.34 L619.79,682.83 L621.79,681.22 L623.76,679.52 L625.68,677.73" stroke="#0000ff" stroke-dasharray="4.2 2.7"/>
<path d="M139.68,632.20 L142.01,633.75 L144.33,635.31 L146.65,636.87 L148.97,638.44 L151.29,640.02 L153.61,641.61 L155.92,643.20 L158.23,644.80 L160.54,646.40 L162.85,648.01 L165.16,649.62 L167.46,651.24 L169.77,652.87 L172.07,654.49 L174.37,656.12 L176.67,657.76 L178.98,659.40 L181.28,661.04 L183.58,662.69 L185.87,664.33 L188.17,665.98 L190.47,667.64 L192.77,669.29 L195.07,670.94 L197.37,672.60 L199.67,674.26 L201.97,675.92 L204.27,677.57 L206.58,679.23 L208.88,680.89 L211.18,682.55 L213.49,684.21 L215.79,685.86 L218.10,687.52 L220.41,689.17 L222.72,690.82 L225.04,692.47 L227.35,694.11 L229.67,695.76 L231.99,697.40 L234.31,699.03 L236.64,700.67 L238.96,702.30 L241.29,703.92 L243.63,705.54 L245.96,707.16 L248.30,708.77 L250.64,710.37 L252.99,711.97 L255.34,713.57 L257.69,715.16 L260.05,716.74 L262.41,718.31 L264.77,719.88 L267.14,721.44 L269.52,722.99 L271.89,724.54 L274.28,726.07 L276.66,727.60 L279.05,729.12 L281.45,730.63 L283.85,732.13 L286.26,733.62 L288.67,735.10 L291.09,736.57 L293.51,738.03 L295.94,739.48 L298.37,740.92 L300.81,742.35 L303.26,743.76 L305.71,745.17 L308.17,746.56 L310.64,747.94 L313.11,749.31 L315.59,750.66 L318.08,752.00 L320.57,753.33 L323.07,754.64 L325.58,755.94 L328.09,757.22 L330.61,758.49 L333.14,759.75 L335.68,760.98 L338.22,762.21 L340.78,763.42 L343.34,764.61 L345.91,765.78 L348.49,766.94 L351.07,768.08 L353.67,769.21 L356.27,770.31 L358.88,771.40 L361.51,772.47 L364.14,773.52 L366.78,774.56 L369.43,775.57 L372.09,776.57 L374.76,777.54 L377.43,778.50 L380.12,779.43 L382.82,780.35 L385.53,781.24 L388.25,782.12 L390.98,782.97 L393.72,783.80 L396.47,784.61 L399.23,785.39 L402.00,786.16 L404.79,786.90 L407.58,787.62 L410.38,788.31 L413.18,788.98 L416.00,789.63 L418.82,790.25 L421.65,790.84 L424.48,791.41 L427.32,791.95 L430.17,792.47 L433.02,792.96 L435.87,793.42 L438.72,793.86 L441.58,794.26 L444.44,794.64 L447.30,794.99 L450.16,795.31 L453.02,795.60 L455.88,795.85 L458.74,796.08 L461.60,796.28 L464.46,796.44 L467.31,796.58 L470.16,796.68 L473.01,796.75 L475.85,796.78 L478.69,796.78 L481.52,796.75 L484.34,796.68 L487.16,796.58 L489.97,796.45 L492.78,796.27 L495.57,796.07 L498.36,795.82 L501.14,795.54 L503.91,795.22 L506.66,794.87 L509.41,794.47 L512.14,794.04 L514.86,793.57 L517.57,793.06 L520.27,792.51 L522.95,791.91 L525.62,791.28 L528.27,790.61 L530.90,789.90 L533.52,789.14 L536.13,788.35 L538.71,787.51 L541.28,786.62 L543.83,785.70 L546.36,784.73 L548.87,783.71 L551.36,782.66 L553.83,781.55 L556.28,780.40 L558.70,779.21 L561.11,777.97 L563.49,776.68 L565.85,775.35 L568.18,773.97 L570.49,772.54 L572.77,771.07 L575.03,769.55 L577.26,767.98 L579.46,766.37 L581.64,764.70 L583.79,763.00 L585.91,761.24 L588.00,759.44 L590.06,757.59 L592.09,755.69 L594.09,753.75 L596.06,751.76 L597.99,749.72 L599.90,747.63 L601.77,745.50 L603.60,743.32 L605.40,741.09 L607.17,738.81 L608.90,736.48 L610.60,734.11 L612.26,731.69 L613.88,729.22 L615.46,726.70 L617.01,724.14 L618.52,721.52 L619.98,718.86 L621.41,716.15 L622.80,713.39 L624.14,710.58" stroke="#ff0000" stroke-dasharray="9.5 3.3 2.7 3.4"/>
<path d="M139.64,694.27 L141.81,697.14 L143.98,700.03 L146.13,702.92 L148.28,705.81 L150.43,708.71 L152.57,711.62 L154.71,714.53 L156.84,717.45 L158.96,720.37 L161.09,723.29 L163.20,726.22 L165.32,729.16 L167.43,732.09 L169.54,735.03 L171.65,737.98 L173.76,740.92 L175.86,743.87 L177.97,746.81 L180.07,749.76 L182.18,752.71 L184.29,755.66 L186.39,758.61 L188.50,761.56 L190.61,764.51 L192.72,767.46 L194.83,770.41 L196.95,773.36 L199.07,776.30 L201.19,779.24 L203.32,782.18 L205.45,785.12 L207.59,788.05 L209.73,790.98 L211.88,793.91 L214.03,796.83 L216.19,799.75 L218.36,802.66 L220.53,805.57 L222.71,808.47 L224.90,811.36 L227.10,814.25 L229.31,817.13 L231.52,820.01 L233.75,822.87 L235.98,825.73 L238.23,828.59 L240.49,831.43 L242.75,834.26 L245.03,837.09 L247.32,839.90 L249.63,842.71 L251.94,845.51 L254.27,848.29 L256.62,851.07 L258.97,853.83 L261.35,856.58 L263.73,859.32 L266.13,862.05 L268.55,864.76 L270.98,867.47 L273.43,870.16 L275.90,872.83 L278.38,875.49 L280.88,878.14 L283.40,880.77 L285.94,883.39 L288.49,885.99 L291.07,888.58 L293.66,891.15 L296.28,893.71 L298.91,896.25 L301.56,898.77 L304.24,901.27 L306.94,903.76 L309.66,906.22 L312.40,908.67 L315.17,911.11 L317.95,913.52 L320.76,915.91 L323.60,918.28 L326.46,920.63 L329.34,922.96 L332.24,925.26 L335.17,927.53 L338.12,929.76 L341.09,931.97 L344.08,934.14 L347.10,936.27 L350.13,938.36 L353.19,940.41 L356.26,942.42 L359.36,944.38 L362.47,946.29 L365.60,948.15 L368.76,949.96 L371.93,951.71 L375.12,953.40 L378.33,955.04 L381.55,956.61 L384.80,958.12 L388.06,959.56 L391.33,960.93 L394.63,962.23 L397.94,963.46 L401.26,964.61 L404.60,965.69 L407.96,966.69 L411.33,967.60 L414.72,968.43 L418.12,969.18 L421.53,969.83 L424.96,970.40 L428.40,970.87 L431.85,971.25 L435.32,971.53 L438.79,971.71 L442.28,971.79 L445.79,971.76 L449.30,971.63 L452.82,971.40 L456.35,971.06 L459.88,970.62 L463.41,970.08 L466.94,969.45 L470.46,968.72 L473.98,967.89 L477.48,966.97 L480.97,965.96 L484.45,964.87 L487.91,963.68 L491.34,962.41 L494.75,961.05 L498.14,959.62 L501.49,958.10 L504.81,956.50 L508.10,954.83 L511.35,953.08 L514.56,951.25 L517.73,949.36 L520.85,947.39 L523.92,945.36 L526.94,943.26 L529.90,941.09 L532.81,938.86 L535.66,936.57 L538.44,934.22 L541.16,931.80 L543.82,929.34 L546.41,926.81 L548.93,924.24 L551.40,921.61 L553.81,918.93 L556.16,916.21 L558.46,913.43 L560.70,910.62 L562.89,907.75 L565.04,904.85 L567.13,901.91 L569.18,898.93 L571.19,895.91 L573.16,892.86 L575.08,889.78 L576.97,886.66 L578.83,883.52 L580.64,880.35 L582.43,877.15 L584.19,873.93 L585.91,870.68 L587.61,867.41 L589.27,864.12 L590.90,860.81 L592.49,857.48 L594.06,854.13 L595.59,850.76 L597.09,847.38 L598.55,843.99 L599.98,840.58 L601.38,837.16 L602.75,833.73 L604.08,830.29 L605.38,826.84 L606.65,823.38 L607.88,819.92 L609.07,816.45 L610.24,812.98 L611.36,809.51 L612.46,806.03 L613.52,802.55 L614.54,799.08 L615.53,795.60 L616.48,792.13 L617.40,788.67 L618.28,785.21 L619.12,781.75 L619.93,778.30 L620.70,774.86 L621.44,771.44 L622.14,768.02 L622.80,764.61" stroke="#ff00ff" stroke-dasharray="7 3.5 2.3 3.5 2.3 3.8"/>
</g>
</g>
</svg>
</body></html>
